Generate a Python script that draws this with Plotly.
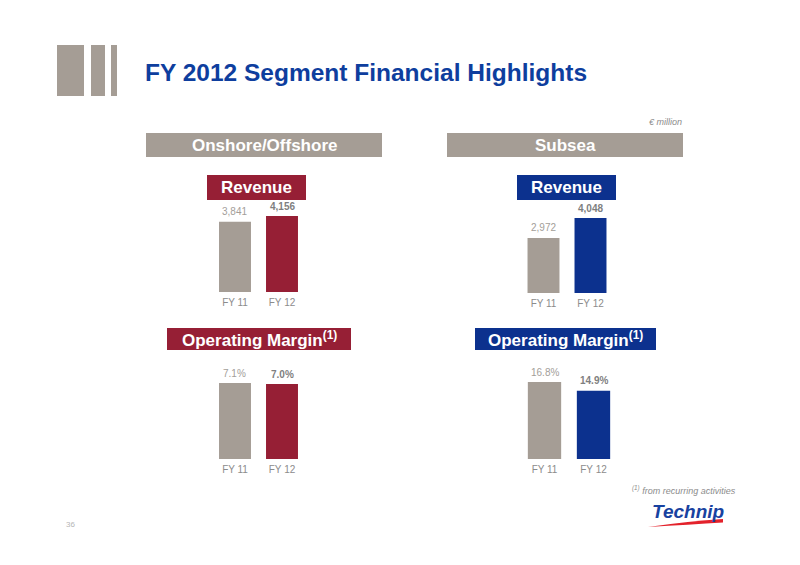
import plotly.graph_objects as go

# ---- data ----
categories = ["FY 11", "FY 12"]
onshore_revenue = [3841, 4156]
subsea_revenue = [2972, 4048]
onshore_margin = [7.1, 7.0]
subsea_margin = [16.8, 14.9]
onshore_revenue_labels = ["3,841", "4,156"]
subsea_revenue_labels = ["2,972", "4,048"]
onshore_margin_labels = ["7.1%", "7.0%"]
subsea_margin_labels = ["16.8%", "14.9%"]

# page body has an 8px margin; figure is sized to fit the window
OFF = 8
W, H = 800 - OFF, 565 - OFF
GRAY = "#A59D95"
RED = "#961F35"
BLUE = "#0C318E"
TITLE_BLUE = "#0E3E9E"
FONT = "Liberation Sans, Arial, Helvetica, sans-serif"


def px(x):
    return (x - OFF) / W


def py(y):
    return 1 - (y - OFF) / H


fig = go.Figure()

# chart specs: (values, labels, color, axis suffix, x-domain px, baseline px, top px, max bar px)
charts = [
    (onshore_revenue, onshore_revenue_labels, RED, "", (211.5, 305.5), 292, 200, 76),
    (subsea_revenue, subsea_revenue_labels, BLUE, "2", (520, 614), 293, 200, 75),
    (onshore_margin, onshore_margin_labels, RED, "3", (211.5, 305.5), 459, 365, 76),
    (subsea_margin, subsea_margin_labels, BLUE, "4", (520, 618), 459, 365, 77),
]

annotations = []
for vals, labels, col, sfx, (x0, x1), base, top, maxpx in charts:
    fig.add_trace(go.Bar(
        x=categories, y=vals,
        marker=dict(color=[GRAY, col], line=dict(width=0)),
        xaxis="x" + sfx, yaxis="y" + sfx,
        hoverinfo="skip", showlegend=False,
    ))
    rng = max(vals) * (base - top) / maxpx
    fig.update_layout(**{
        "xaxis" + sfx: dict(domain=[px(x0), px(x1)], anchor="y" + sfx,
                            showgrid=False, zeroline=False, showline=False,
                            ticks="", ticklabelstandoff=3,
                            tickfont=dict(size=10, color="#8C8C8C", family=FONT),
                            fixedrange=True),
        "yaxis" + sfx: dict(domain=[py(base), py(top)], anchor="x" + sfx,
                            range=[0, rng], visible=False, fixedrange=True),
    })
    for i, (c, v, lab) in enumerate(zip(categories, vals, labels)):
        annotations.append(dict(
            x=c, y=v, xref="x" + sfx, yref="y" + sfx,
            text=lab if i == 0 else "<b>" + lab + "</b>",
            showarrow=False, yanchor="bottom", yshift=2.5,
            font=dict(size=10, color="#A39E99" if i == 0 else "#7F7F7F", family=FONT),
        ))

shapes = []
# title icon bars
for a, b in [(57, 84), (91, 105), (111, 117)]:
    shapes.append(dict(type="rect", xref="paper", yref="paper",
                       x0=px(a), x1=px(b), y0=py(96), y1=py(45),
                       fillcolor=GRAY, line=dict(width=0)))

# section headers
headers = [
    ("Onshore/Offshore", GRAY, 146, 382, 133, 157),
    ("Subsea", GRAY, 447, 683, 133, 157),
    ("Revenue", RED, 207, 306, 175, 200),
    ("Revenue", BLUE, 517, 616, 175, 200),
    ("Operating Margin<sup>(1)</sup>", RED, 167, 351, 328, 350),
    ("Operating Margin<sup>(1)</sup>", BLUE, 475, 656, 328, 350),
]
for txt, col, a, b, t, bt in headers:
    shapes.append(dict(type="rect", xref="paper", yref="paper",
                       x0=px(a), x1=px(b), y0=py(bt), y1=py(t),
                       fillcolor=col, line=dict(width=0)))
    annotations.append(dict(x=px((a + b) / 2), y=py((t + bt) / 2), xref="paper", yref="paper",
                            text="<b>" + txt + "</b>", showarrow=False,
                            xanchor="center", yanchor="middle",
                            font=dict(size=17, color="white", family=FONT)))

# title
annotations.append(dict(x=px(143), y=py(72), xref="paper", yref="paper",
                        text="<b>FY 2012 Segment Financial Highlights</b>",
                        showarrow=False, xanchor="left", yanchor="middle",
                        font=dict(size=24.5, color=TITLE_BLUE, family=FONT)))
# unit
annotations.append(dict(x=px(684), y=py(122), xref="paper", yref="paper",
                        text="<i>€ million</i>", showarrow=False,
                        xanchor="right", yanchor="middle",
                        font=dict(size=9, color="#8C8C8C", family=FONT)))
# footnote
annotations.append(dict(x=px(738), y=py(490), xref="paper", yref="paper",
                        text="<i><sup>(1)</sup> from recurring activities</i>", showarrow=False,
                        xanchor="right", yanchor="middle",
                        font=dict(size=9, color="#8C8C8C", family=FONT)))
# page number
annotations.append(dict(x=px(70), y=py(524), xref="paper", yref="paper",
                        text="36", showarrow=False, xanchor="center", yanchor="middle",
                        font=dict(size=8, color="#B5B5B5", family=FONT)))
# logo
annotations.append(dict(x=px(688), y=py(511), xref="paper", yref="paper",
                        text="<b><i>Technip</i></b>", showarrow=False,
                        xanchor="center", yanchor="middle",
                        font=dict(size=19, color="#1842A0", family=FONT)))
swoosh = "M {} {} Q {} {} {} {} L {} {} Q {} {} {} {} Z".format(
    px(648), py(527), px(690), py(521), px(723), py(519),
    px(723), py(522.5), px(690), py(524.5), px(648), py(527))
shapes.append(dict(type="path", xref="paper", yref="paper", path=swoosh,
                   fillcolor="#E3222B", line=dict(width=0)))

fig.update_layout(
    width=W, height=H,
    margin=dict(l=0, r=0, t=0, b=0),
    paper_bgcolor="white", plot_bgcolor="white",
    bargap=0.32,
    shapes=shapes, annotations=annotations,
    font=dict(family=FONT),
)

fig.write_html("out.html", config={"displayModeBar": False})
